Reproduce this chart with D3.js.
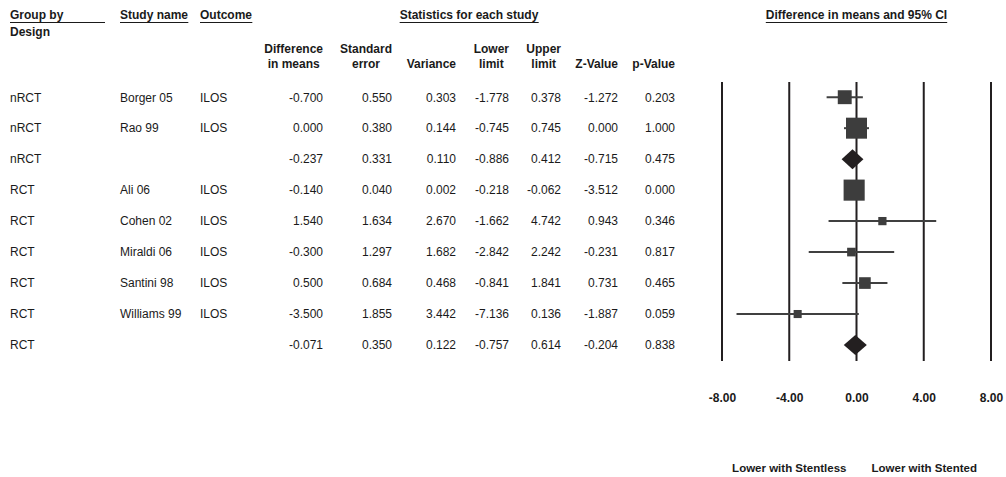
<!DOCTYPE html>
<html>
<head>
<meta charset="utf-8">
<script src="https://cdn.jsdelivr.net/npm/d3@7"></script>
<style>
  html, body { margin: 0; padding: 0; background: #fff; }
  svg { display: block; font-family: "Liberation Sans", Arial, sans-serif; }
  .hdr { font-weight: bold; font-size: 12px; fill: #1a1a1a; }
  .cell { font-size: 12px; fill: #1a1a1a; }
</style>
</head>
<body>
<svg id="chart" width="1006" height="477"></svg>
<script>
// Study-level results, one entry per row (summary rows have no study name)
const groups   = ["nRCT", "nRCT", "nRCT", "RCT", "RCT", "RCT", "RCT", "RCT", "RCT"];
const studies  = ["Borger 05", "Rao 99", "", "Ali 06", "Cohen 02", "Miraldi 06", "Santini 98", "Williams 99", ""];
const outcomes = ["ILOS", "ILOS", "", "ILOS", "ILOS", "ILOS", "ILOS", "ILOS", ""];
const diffMeans = [-0.700, 0.000, -0.237, -0.140, 1.540, -0.300, 0.500, -3.500, -0.071];
const stdErr    = [0.550, 0.380, 0.331, 0.040, 1.634, 1.297, 0.684, 1.855, 0.350];
const variances = [0.303, 0.144, 0.110, 0.002, 2.670, 1.682, 0.468, 3.442, 0.122];
const lowerLim  = [-1.778, -0.745, -0.886, -0.218, -1.662, -2.842, -0.841, -7.136, -0.757];
const upperLim  = [0.378, 0.745, 0.412, -0.062, 4.742, 2.242, 1.841, 0.136, 0.614];
const zValues   = [-1.272, 0.000, -0.715, -3.512, 0.943, -0.231, 0.731, -1.887, -0.204];
const pValues   = [0.203, 1.000, 0.475, 0.000, 0.346, 0.817, 0.465, 0.059, 0.838];
const axisTicks = [-8, -4, 0, 4, 8];
const favourLabels = ["Lower with Stentless", "Lower with Stented"];

const rows = groups.map((g, i) => ({
  group: g, study: studies[i], outcome: outcomes[i],
  diff: diffMeans[i], se: stdErr[i], variance: variances[i],
  lower: lowerLim[i], upper: upperLim[i], z: zValues[i], p: pValues[i],
  summary: studies[i] === ""
}));

const svg = d3.select("#chart");
// Plain hyphen-minus, as in the printed table
const fmt = v => v.toFixed(3);

// Row positions
const y = d3.scalePoint().domain(d3.range(rows.length)).range([97.2, 345]);

// Forest plot scale
const x = d3.scaleLinear().domain([-8, 8]).range([722, 991]);
// Box size grows with inverse-variance weight, capped for very precise studies
const box = d3.scaleLinear().domain([0, 7]).range([7.5, 21.1]).clamp(true);

// ---- Table columns ----
const numCols = [
  { key: "diff",     head: ["Difference", "in means"], right: 323 },
  { key: "se",       head: ["Standard", "error"],     right: 392 },
  { key: "variance", head: ["Variance"],              right: 456 },
  { key: "lower",    head: ["Lower", "limit"],        right: 509 },
  { key: "upper",    head: ["Upper", "limit"],        right: 561 },
  { key: "z",        head: ["Z-Value"],               right: 618 },
  { key: "p",        head: ["p-Value"],               right: 675 }
];

// Top headers with underlines
function underlined(txt, xPos, anchor, lineFrom, lineTo) {
  const t = svg.append("text").attr("class", "hdr")
    .attr("x", xPos).attr("y", 18.5).attr("text-anchor", anchor).text(txt);
  const bb = t.node().getBBox();
  svg.append("line")
    .attr("x1", lineFrom != null ? lineFrom : bb.x)
    .attr("x2", lineTo != null ? lineTo : bb.x + bb.width)
    .attr("y1", 22.5).attr("y2", 22.5)
    .attr("stroke", "#1a1a1a").attr("stroke-width", 1);
}
underlined("Group by", 10, "start", 10, 105);
underlined("Study name", 120, "start");
underlined("Outcome", 200, "start");
underlined("Statistics for each study", 469, "middle");
underlined("Difference in means and 95% CI", x(0), "middle");

svg.append("text").attr("class", "hdr").attr("x", 10).attr("y", 35.5).text("Design");

// Column headers: lines centred on each other, block right-aligned to the column
numCols.forEach(c => {
  const g = svg.append("g");
  const lines = c.head.length === 2 ? c.head : [null, c.head[0]];
  const texts = [];
  lines.forEach((ln, k) => {
    if (ln === null) return;
    texts.push(g.append("text").attr("class", "hdr")
      .attr("y", k === 0 ? 52.5 : 67.5).attr("text-anchor", "middle").text(ln));
  });
  const w = d3.max(texts, t => t.node().getComputedTextLength());
  texts.forEach(t => t.attr("x", c.right - w / 2));
});

// Table body
const body = svg.append("g");
rows.forEach((r, i) => {
  const yy = y(i) + 4.3;
  body.append("text").attr("class", "cell").attr("x", 10).attr("y", yy).text(r.group);
  body.append("text").attr("class", "cell").attr("x", 120).attr("y", yy).text(r.study);
  body.append("text").attr("class", "cell").attr("x", 200).attr("y", yy).text(r.outcome);
  numCols.forEach(c => {
    body.append("text").attr("class", "cell").attr("x", c.right).attr("y", yy)
      .attr("text-anchor", "end").text(fmt(r[c.key]));
  });
});

// ---- Forest plot ----
const plot = svg.append("g");
const lineTop = 82, lineBottom = 361;

plot.selectAll("line.ref").data(axisTicks).join("line")
  .attr("class", "ref")
  .attr("x1", d => x(d)).attr("x2", d => x(d))
  .attr("y1", lineTop).attr("y2", lineBottom)
  .attr("stroke", "#231f20").attr("stroke-width", 2);

const studyRows = rows.map((r, i) => ({ ...r, i })).filter(r => !r.summary);
const summaryRows = rows.map((r, i) => ({ ...r, i })).filter(r => r.summary);

plot.selectAll("line.ci").data(studyRows).join("line")
  .attr("class", "ci")
  .attr("x1", d => x(d.lower)).attr("x2", d => x(d.upper))
  .attr("y1", d => y(d.i)).attr("y2", d => y(d.i))
  .attr("stroke", "#404040").attr("stroke-width", 2);

plot.selectAll("rect.box").data(studyRows).join("rect")
  .attr("class", "box")
  .attr("x", d => x(d.diff) - box(1 / d.variance) / 2)
  .attr("y", d => y(d.i) - box(1 / d.variance) / 2)
  .attr("width", d => box(1 / d.variance))
  .attr("height", d => box(1 / d.variance))
  .attr("fill", "#3d3d3d");

plot.selectAll("path.diamond").data(summaryRows).join("path")
  .attr("class", "diamond")
  .attr("d", d => {
    const cy = y(d.i), h = 10;
    return `M${x(d.lower)},${cy}L${x(d.diff)},${cy - h}L${x(d.upper)},${cy}L${x(d.diff)},${cy + h}Z`;
  })
  .attr("fill", "#231f20");

// Axis labels
const axis = d3.axisBottom(x).tickValues(axisTicks).tickFormat(d => d.toFixed(2)).tickSize(0).tickPadding(0);
const ax = svg.append("g").attr("transform", "translate(0,393.5)").call(axis);
ax.select(".domain").remove();
ax.selectAll("text")
  .attr("font-family", "'Liberation Sans', Arial, sans-serif")
  .attr("font-size", 12).attr("font-weight", "bold").attr("fill", "#1a1a1a");

// Direction labels
svg.append("text").attr("class", "hdr").style("font-size", "11.5px")
  .attr("x", x(0) - 10).attr("y", 471.5).attr("text-anchor", "end").text(favourLabels[0]);
svg.append("text").attr("class", "hdr").style("font-size", "11.5px")
  .attr("x", x(0) + 15).attr("y", 471.5).attr("text-anchor", "start").text(favourLabels[1]);
</script>
</body>
</html>
